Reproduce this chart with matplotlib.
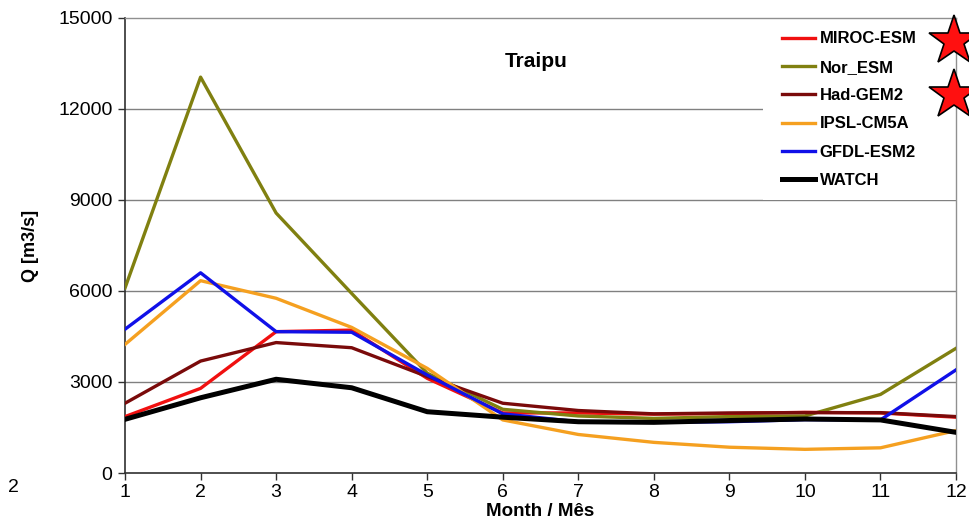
import matplotlib
matplotlib.use("Agg")
import matplotlib.pyplot as plt
from matplotlib.patches import Rectangle

plt.rcParams['font.family'] = ['Liberation Sans', 'DejaVu Sans']

months = list(range(1, 13))

miroc_esm = [1860, 2790, 4660, 4710, 3120, 1980, 1980, 1940, 1960, 2000, 1980, 1840]
nor_esm = [6100, 13050, 8570, 5920, 3290, 2100, 1880, 1800, 1860, 1880, 2590, 4110]
had_gem2 = [2300, 3690, 4300, 4130, 3180, 2300, 2060, 1950, 1980, 1990, 1990, 1860]
ipsl_cm5a = [4240, 6340, 5760, 4800, 3450, 1750, 1270, 1010, 850, 780, 830, 1400]
gfdl_esm2 = [4740, 6600, 4660, 4640, 3230, 1950, 1690, 1670, 1690, 1760, 1750, 3400]
watch = [1770, 2480, 3090, 2810, 2020, 1840, 1690, 1670, 1730, 1780, 1750, 1340]

series_names = ['MIROC-ESM', 'Nor_ESM', 'Had-GEM2', 'IPSL-CM5A', 'GFDL-ESM2', 'WATCH']
series_values = [miroc_esm, nor_esm, had_gem2, ipsl_cm5a, gfdl_esm2, watch]
colors = ['#f01010', '#808010', '#7a0a0a', '#f5a020', '#1010e8', '#000000']
widths = [2.4, 2.4, 2.4, 2.4, 2.4, 3.6]

fig = plt.figure(figsize=(9.7, 5.23), dpi=100)
ax = fig.add_axes([0.1289, 0.0956, 0.8567, 0.87])

# grid lines
for yv in [3000, 6000, 9000, 12000]:
    ax.axhline(yv, color='#808080', lw=1.0, zorder=1)

# white box behind legend
ax.add_patch(Rectangle((0.768, 0.6), 0.232, 0.4, transform=ax.transAxes,
                       facecolor='white', edgecolor='none', zorder=2))

for name, vals, c, w in zip(series_names, series_values, colors, widths):
    ax.plot(months, vals, color=c, lw=w, label=name, zorder=3)

ax.set_xlim(1, 12)
ax.set_ylim(0, 15000)
ax.set_xticks(months)
ax.set_yticks([0, 3000, 6000, 9000, 12000, 15000])
ax.tick_params(axis='both', direction='out', length=5, width=1, labelsize=14,
               color='#303030', pad=4)
ax.tick_params(axis='x', pad=3)

for s in ['left', 'bottom']:
    ax.spines[s].set_color('#303030')
    ax.spines[s].set_linewidth(1.2)
for s in ['top', 'right']:
    ax.spines[s].set_color('#909090')
    ax.spines[s].set_linewidth(1.0)

ax.set_xlabel('Month / Mês', fontsize=13.5, fontweight='bold', labelpad=1)
ax.set_ylabel('Q [m3/s]', fontsize=13, fontweight='bold', labelpad=14)

ax.text(0.495, 0.905, 'Traipu', transform=ax.transAxes, fontsize=15,
        fontweight='bold', ha='center', va='center')

leg = ax.legend(loc='upper left', bbox_to_anchor=(0.783, 0.985), frameon=False,
                fontsize=12, handlelength=1.95, handletextpad=0.3,
                labelspacing=0.8, borderaxespad=0)
for t in leg.get_texts():
    t.set_fontweight('bold')
leg.set_zorder(5)

# red stars next to two models
for yf in [0.95, 0.83]:
    ax.plot([0.997], [yf], marker='*', markersize=38, markerfacecolor='#ff1010',
            markeredgecolor='black', markeredgewidth=1.2,
            transform=ax.transAxes, clip_on=False, zorder=6)

fig.text(8 / 970, 1 - 488 / 523, '2', fontsize=14, ha='left', va='center')

fig.savefig('out.png', dpi=100)
